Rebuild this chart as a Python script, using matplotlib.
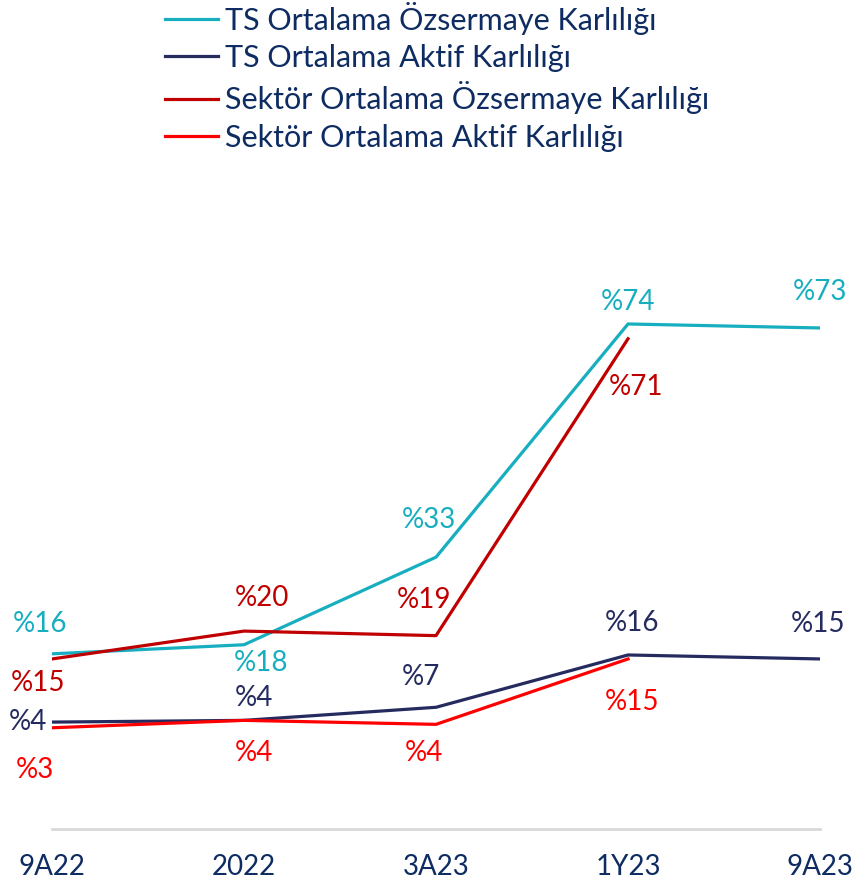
import numpy as np
import matplotlib
matplotlib.use("Agg")
from matplotlib import pyplot as plt

# data
periods = ["9A22", "2022", "3A23", "1Y23", "9A23"]
ts_roe = [16.0, 17.6, 33.0, 74.0, 73.3]
ts_roa = [4.0, 4.3, 6.6, 15.8, 15.1]
sector_roe = [15.1, 20.0, 19.2, 71.4, np.nan]
sector_roa = [3.0, 4.3, 3.6, 15.1, np.nan]

ts_roe_lbl = ["%16", "%18", "%33", "%74", "%73"]
ts_roa_lbl = ["%4", "%4", "%7", "%16", "%15"]
sector_roe_lbl = ["%15", "%20", "%19", "%71"]
sector_roa_lbl = ["%3", "%4", "%4", "%15"]

names = ["TS Ortalama Özsermaye Karlılığı",
         "TS Ortalama Aktif Karlılığı",
         "Sektör Ortalama Özsermaye Karlılığı",
         "Sektör Ortalama Aktif Karlılığı"]

c_ts_roe = "#17aebf"
c_ts_roa = "#252b5e"
c_sec_roe = "#c00000"
c_sec_roa = "#ff0000"
txt_col = "#0e2c62"

plt.rcParams['font.family'] = ['Lato', 'DejaVu Sans']

fig = plt.figure(figsize=(8.56, 8.89), dpi=100)
ax = fig.add_axes([52/856, 1 - 829/889, (820-52)/856, (829-200)/889])

x = np.arange(len(periods))
lw = 2.3
ax.plot(x, ts_roe, color=c_ts_roe, lw=lw, label=names[0])
ax.plot(x, ts_roa, color=c_ts_roa, lw=lw, label=names[1])
ax.plot(x, sector_roe, color=c_sec_roe, lw=lw, label=names[2])
ax.plot(x, sector_roa, color=c_sec_roa, lw=lw, label=names[3])

# label offsets in pixels (dx, dy)
off_ts_roe = [(-12, 30), (17, -18), (-7, 37), (0, 22), (0, 36)]
off_ts_roa = [(-24, 0), (10, 22), (-15, 30), (4, 32), (-2, 35)]
off_sec_roe = [(-14, -24), (18, 33), (-12, 36), (8, -48)]
off_sec_roa = [(-17, -42), (10, -33), (-12, -29), (4, -43)]

def put_labels(vals, labels, offs, col):
  for i, (lab, off) in enumerate(zip(labels, offs)):
    ax.annotate(lab, (x[i], vals[i]), xytext=off, textcoords='offset pixels',
                ha='center', va='center', color=col, fontsize=20,
                annotation_clip=False)

put_labels(ts_roe, ts_roe_lbl, off_ts_roe, c_ts_roe)
put_labels(ts_roa, ts_roa_lbl, off_ts_roa, c_ts_roa)
put_labels(sector_roe, sector_roe_lbl, off_sec_roe, c_sec_roe)
put_labels(sector_roa, sector_roa_lbl, off_sec_roa, c_sec_roa)

ax.set_xlim(0, 4)
ax.set_ylim(-14.8, 95.8)
ax.set_yticks([])
ax.set_xticks(x)
ax.set_xticklabels(periods, fontsize=20, color=txt_col)
ax.tick_params(axis='x', length=0, pad=18)
for s in ['top', 'right', 'left']:
  ax.spines[s].set_visible(False)
ax.spines['bottom'].set_color('#d9d9d9')
ax.spines['bottom'].set_linewidth(2)

leg = fig.legend(loc='upper left', bbox_to_anchor=(165/856, 1 - 2/889),
                 frameon=False, fontsize=22, handlelength=1.75,
                 handletextpad=0.2, labelspacing=0.3, borderaxespad=0,
                 borderpad=0)
for t in leg.get_texts():
  t.set_color(txt_col)

plt.savefig('out.png', dpi=100)
